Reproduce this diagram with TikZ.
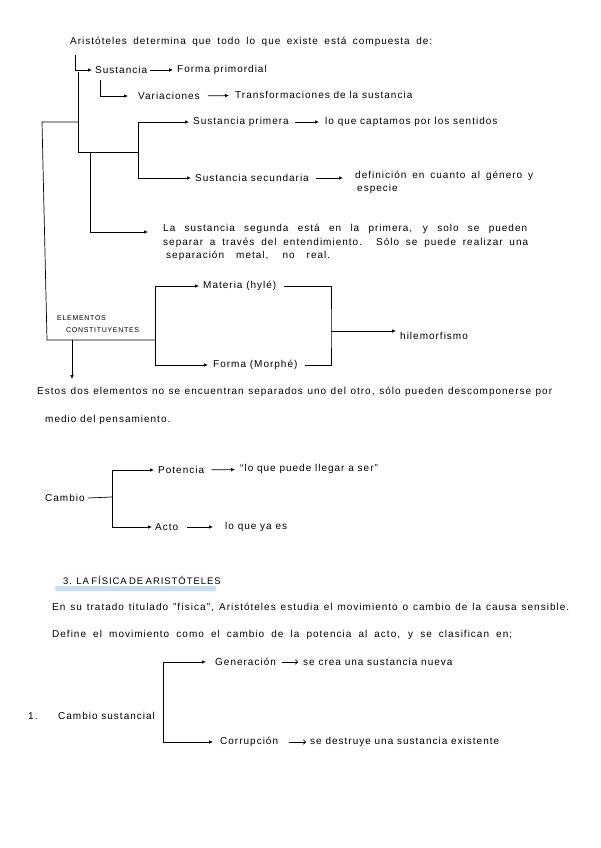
\documentclass[tikz,border=0pt]{standalone}
\usepackage{fontspec}
\setmainfont{Liberation Sans}[LetterSpace=10]
\usetikzlibrary{arrows.meta}
\definecolor{marker}{RGB}{200,222,245}
\newcommand{\spread}[2]{\makebox[#1pt][s]{#2}}
\begin{document}
\begin{tikzpicture}[x=1pt,y=-1pt, every node/.style={font=\fontsize{10}{13.5}\selectfont,inner sep=0pt,anchor=west}]
  \tikzstyle{link}=[line width=0.7pt]
  \tikzstyle{arr}=[link,-{Latex[length=4pt,width=3.5pt]}]
  \tikzstyle{openarr}=[link,-{To[length=3pt,width=5pt]}]
  \tikzstyle{caps}=[font=\fontsize{7}{12}\selectfont,align=left]
  \useasboundingbox (0,0) rectangle (600,848);
  \node (title) at (70,42) {\spread{362}{Aristóteles determina que todo lo que existe está compuesta de:}};
  \node (sust) at (95,70) {Sustancia};
  \node (formap) at (177,70) {Forma primordial};
  \node (var) at (138,96) {Variaciones};
  \node (transf) at (235,95) {Transformaciones de la sustancia};
  \node (sprim) at (193,122) {Sustancia primera};
  \node (capt) at (325,122) {lo que captamos por los sentidos};
  \node (ssec) at (195,178) {Sustancia secundaria};
  \node[align=left] (defin) at (355,182.5) {\spread{178}{definición en cuanto al género y}\\\hspace*{2pt}especie};
  \node[align=left] (segunda) at (163,242.5) {\spread{364}{La sustancia segunda está en la primera, y solo se pueden}\\\spread{365}{separar a través del entendimiento. Sólo se puede realizar una}\\\hspace*{3pt}\spread{164}{separación metal, no real.}};
  \node[caps] (elem) at (57,324) {ELEMENTOS\\\hspace*{9pt}CONSTITUYENTES};
  \node (materia) at (203,286) {Materia (hylé)};
  \node (forma) at (213,365) {Forma (Morphé)};
  \node (hile) at (400,336) {hilemorfismo};
  \node (estos) at (37,392) {\spread{515}{Estos dos elementos no se encuentran separados uno del otro, sólo pueden descomponerse por}};
  \node (medio) at (45,420) {medio del pensamiento.};
  \node (cambio) at (45,498) {Cambio};
  \node (pot) at (158,470) {Potencia};
  \node (llegar) at (240,469) {“lo que puede llegar a ser”};
  \node (acto) at (155,527) {Acto};
  \node (yaes) at (225,527) {lo que ya es};
  \fill[marker,rounded corners=2pt] (55,586) rectangle (216,591);
  \node[font=\fontsize{9.5}{11}\selectfont] (fisica) at (63,580) {\spread{152}{3. LA FÍSICA DE ARISTÓTELES}};
  \node (tratado) at (52,607) {\spread{517}{En su tratado titulado "física", Aristóteles estudia el movimiento o cambio de la causa sensible.}};
  \node (define) at (52,635) {\spread{460}{Define el movimiento como el cambio de la potencia al acto, y se clasifican en;}};
  \node (num) at (28,716) {1.};
  \node (csust) at (58,716) {Cambio sustancial};
  \node (gen) at (215,662) {Generación};
  \node (crea) at (303,662) {se crea una sustancia nueva};
  \node (corr) at (220,742) {Corrupción};
  \node (destr) at (310,742) {se destruye una sustancia existente};
  \coordinate (top) at (75,55);
  \coordinate (vtop) at (100,80);
  \coordinate (m0) at (78,72);
  \coordinate (m1) at (78,152);
  \coordinate (br) at (138,152);
  \coordinate (s0) at (90,152);
  \coordinate (s1) at (148,232);
  \coordinate (l0) at (42,122);
  \coordinate (l1) at (47,340);
  \coordinate (mb) at (155,340);
  \coordinate (e0) at (72,340);
  \coordinate (e1) at (72,379);
  \coordinate (rb) at (331,331);
  \coordinate (cb) at (112,497);
  \coordinate (cs) at (163,716);
  \draw[arr,shorten >=3pt] (top) |- (sust.west);
  \draw[arr,shorten <=3pt,shorten >=4pt] (sust) -- (formap);
  \draw[arr,shorten >=10pt] (vtop) |- (var.west);
  \draw[arr,shorten <=8pt,shorten >=6pt] (var) -- (transf);
  \draw[link] (m0) -- (m1) -- (br);
  \draw[arr,shorten >=4pt] (br) |- (sprim.west);
  \draw[arr,shorten >=4pt] (br) |- (ssec.west);
  \draw[arr,shorten <=6pt,shorten >=6pt] (sprim) -- (capt);
  \draw[arr,shorten <=7pt,shorten >=12pt] (ssec) -- (defin.west |- ssec);
  \draw[arr] (s0) |- (s1);
  \draw[link] (m0 |- l0) -- (l0) -- (l1) -- (mb);
  \draw[arr,shorten >=4pt] (mb) |- (materia.west);
  \draw[arr,shorten >=5pt] (mb) |- (forma.west);
  \draw[arr] (e0) -- (e1);
  \draw[link] ([xshift=7pt]materia.east) -| (rb) |- ([xshift=7pt]forma.east);
  \draw[arr,shorten >=4pt] (rb) -- (rb -| hile.west);
  \draw[link] ([xshift=3pt]cambio.east) -- (cb);
  \draw[arr,shorten >=4pt] (cb) |- (pot.west);
  \draw[arr,shorten >=3pt] (cb) |- (acto.west);
  \draw[arr,shorten <=7pt,shorten >=5pt] (pot) -- (llegar);
  \draw[arr,shorten <=9pt,shorten >=12pt] (acto) -- (yaes);
  \draw[arr,shorten >=9pt] (cs) |- (gen.west);
  \draw[arr,shorten >=7pt] (cs) |- (corr.west);
  \draw[openarr,shorten <=6pt,shorten >=5pt] (gen) -- (crea);
  \draw[openarr,shorten <=11pt,shorten >=4pt] (corr) -- (destr);
\end{tikzpicture}
\end{document}
